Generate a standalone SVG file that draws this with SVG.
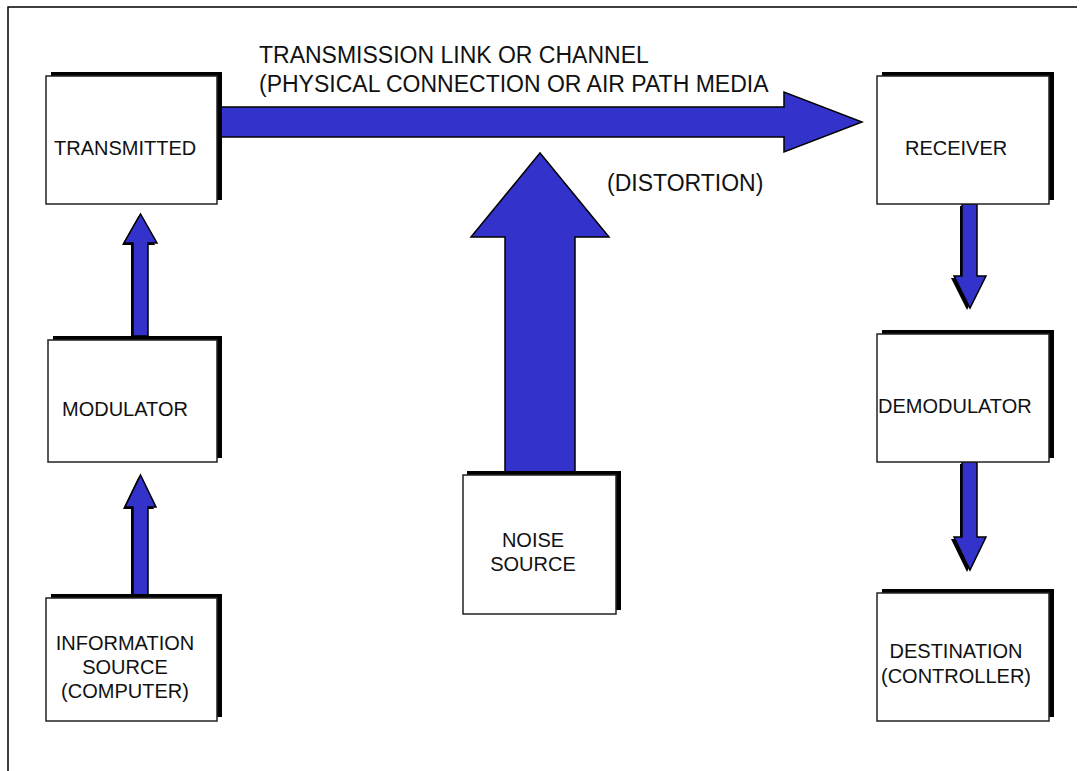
<svg xmlns="http://www.w3.org/2000/svg" width="1084" height="771" viewBox="0 0 1084 771">
<style>
.box{fill:#ffffff;stroke:#222222;stroke-width:1.5}
.shadow{fill:#000000}
.arrow{fill:#3333cc;stroke:#000000;stroke-width:1.5;stroke-linejoin:miter}
.ashadow{fill:#000000}
.lbl{font-family:"Liberation Sans",Arial,sans-serif;font-size:20px;fill:#111111}
.top{font-family:"Liberation Sans",Arial,sans-serif;font-size:23px;fill:#111111}
.frame{fill:none;stroke:#000000;stroke-width:1.5}
</style>
<rect width="1084" height="771" fill="#ffffff"/>
<path class="frame" d="M1077 7 H8 V771"/>

<g id="connectors">
  <g id="main-channel">
    <path class="arrow" d="M217 107 H784 V92 L862 122 L784 152 V137 H217 Z"/>
  </g>
  <g id="noise-arrow">
    <path class="arrow" d="M505 472 V237 H471 L540 153 L609 237 H575 V472 Z"/>
  </g>
  <g id="info-to-mod">
    <path class="ashadow" d="M131 597 V509 H123 L138.5 477 L154 509 H146 V597 Z"/>
    <path class="arrow" d="M133 595 V507 H125 L140.5 475 L156 507 H148 V595 Z"/>
  </g>
  <g id="mod-to-tx">
    <path class="ashadow" d="M131 338 V245 H122 L138.5 216 L155 245 H146 V338 Z"/>
    <path class="arrow" d="M133 336 V243 H124 L140.5 214 L157 243 H148 V336 Z"/>
  </g>
  <g id="rx-to-demod">
    <path class="ashadow" d="M960 206 V278 H951 L967 310 L983 278 H975 V206 Z"/>
    <path class="arrow" d="M962 204 V276 H954 L970 308 L986 276 H977 V204 Z"/>
  </g>
  <g id="demod-to-dest">
    <path class="ashadow" d="M960 464 V539 H951 L967 572 L983 539 H975 V464 Z"/>
    <path class="arrow" d="M962 462 V537 H954 L970 570 L986 537 H977 V462 Z"/>
  </g>
</g>

<g id="channel-label">
  <text class="top" x="259" y="63">TRANSMISSION LINK OR CHANNEL</text>
  <text class="top" x="259" y="92">(PHYSICAL CONNECTION OR AIR PATH MEDIA</text>
</g>
<g id="distortion-label">
  <text class="top" x="607" y="191">(DISTORTION)</text>
</g>

<g id="transmitted">
  <rect class="shadow" x="51" y="72" width="171" height="128"/>
  <rect class="box" x="46" y="76" width="171" height="128"/>
  <text class="lbl" x="54" y="155">TRANSMITTED</text>
</g>
<g id="receiver">
  <rect class="shadow" x="882" y="72" width="172" height="128"/>
  <rect class="box" x="877" y="76" width="172" height="128"/>
  <text class="lbl" x="905" y="155">RECEIVER</text>
</g>
<g id="modulator">
  <rect class="shadow" x="53" y="336" width="169" height="122"/>
  <rect class="box" x="48" y="340" width="169" height="122"/>
  <text class="lbl" x="62" y="416">MODULATOR</text>
</g>
<g id="demodulator">
  <rect class="shadow" x="882" y="330" width="172" height="128"/>
  <rect class="box" x="877" y="334" width="172" height="128"/>
  <text class="lbl" x="878" y="413">DEMODULATOR</text>
</g>
<g id="information-source">
  <rect class="shadow" x="51" y="594" width="171" height="123"/>
  <rect class="box" x="46" y="598" width="171" height="123"/>
  <text class="lbl" x="125" y="650" text-anchor="middle">INFORMATION</text>
  <text class="lbl" x="125" y="674" text-anchor="middle">SOURCE</text>
  <text class="lbl" x="125" y="698" text-anchor="middle">(COMPUTER)</text>
</g>
<g id="destination">
  <rect class="shadow" x="882" y="589" width="172" height="128"/>
  <rect class="box" x="877" y="593" width="172" height="128"/>
  <text class="lbl" x="956" y="658" text-anchor="middle">DESTINATION</text>
  <text class="lbl" x="956" y="683" text-anchor="middle">(CONTROLLER)</text>
</g>
<g id="noise-source">
  <rect class="shadow" x="467" y="471" width="154" height="139"/>
  <rect class="box" x="463" y="475" width="153" height="139"/>
  <text class="lbl" x="533" y="547" text-anchor="middle">NOISE</text>
  <text class="lbl" x="533" y="571" text-anchor="middle">SOURCE</text>
</g>
</svg>
